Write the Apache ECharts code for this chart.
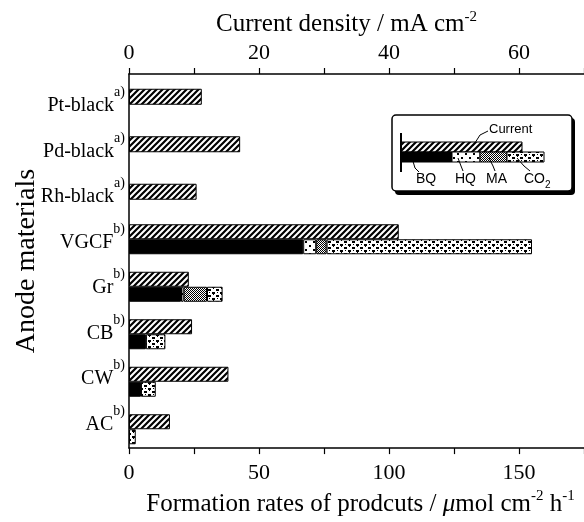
<!DOCTYPE html>
<html><head><meta charset="utf-8">
<script src="https://cdn.jsdelivr.net/npm/echarts@6/dist/echarts.min.js"></script>
<style>html,body{margin:0;padding:0;background:#fff}#c{width:584px;height:522px}</style>
</head><body><div id="c"></div>
<script>
const categories = ['Pt-black','Pd-black','Rh-black','VGCF','Gr','CB','CW','AC'];
const notes = ['a)','a)','a)','b)','b)','b)','b)','b)'];
// current density, mA cm-2 (top axis)
const currentSingle = [11.2, 17.1, 10.4, null, null, null, null, null];
const currentPaired = [null, null, null, 41.5, 9.2, 9.7, 15.3, 6.3];
// formation rates, umol cm-2 h-1 (bottom axis)
const bq  = [null, null, null, 67, 20, 6.5, 4.6, null];
const hq  = [null, null, null, 5, 1, null, null, null];
const ma  = [null, null, null, 4, 9, null, null, null];
const co2 = [null, null, null, 79, 6, 7.5, 5.7, 2.6];
const rateTickLabels = [0, 50, 100, 150];
const currentTickLabels = [0, 20, 40, 60];

function pat(w, h, draw) {
  const c = document.createElement('canvas');
  c.width = w; c.height = h;
  const g = c.getContext('2d');
  g.fillStyle = '#fff'; g.fillRect(0, 0, w, h);
  g.fillStyle = '#000'; g.strokeStyle = '#000';
  draw(g);
  return { image: c, repeat: 'repeat' };
}
const hatch = pat(6, 6, g => {
  g.lineWidth = 2.2;
  g.beginPath();
  g.moveTo(-1, 7); g.lineTo(7, -1);
  g.moveTo(-1, 1); g.lineTo(1, -1);
  g.moveTo(5, 7); g.lineTo(7, 5);
  g.stroke();
});
const hqPat = pat(8, 8, g => { g.fillRect(1, 1, 2, 2); g.fillRect(5, 5, 2, 2); });
const maPat = pat(2, 2, g => { g.fillRect(0, 0, 1, 1); g.fillRect(1, 1, 1, 1); });
const co2Pat = pat(8, 6, g => {
  g.fillRect(0, 1, 3, 2); g.fillRect(4, 4, 3, 2); g.fillRect(5, 0, 1, 1); g.fillRect(1, 4, 1, 1);
});

const serif = '"Liberation Serif", "DejaVu Serif", serif';
const sans = '"Liberation Sans", Arial, sans-serif';
const border = { borderColor: '#000', borderWidth: 1 };

const chart = echarts.init(document.getElementById('c'), null, { renderer: 'canvas' });

function barSeries(name, data, color) {
  return {
    name, type: 'bar', data, barWidth: 15, barGap: '0%',
    xAxisIndex: 2, yAxisIndex: 1, stack: 'f',
    itemStyle: Object.assign({ color }, border)
  };
}

const axisBase = {
  axisLine: { show: true, lineStyle: { color: '#000', width: 1.5 } },
  splitLine: { show: false },
};
const tickStyle = { color: '#000', width: 1.2 };

chart.setOption({
  animation: false,
  backgroundColor: '#fff',
  grid: [
    { left: 129, top: 74, width: 457, height: 386 },   // frame with axes
    { left: 129, top: 73, width: 457, height: 380 },   // bars
    { left: 129, top: 78, width: 457, height: 364 }    // category labels
  ],
  xAxis: [
    Object.assign({
      gridIndex: 0, type: 'value', position: 'bottom', min: 0, max: 175, interval: 50,
      axisTick: { show: true, length: 6, lineStyle: tickStyle },
      minorTick: { show: true, splitNumber: 2, length: 6, lineStyle: tickStyle },
      axisLabel: { showMaxLabel: false, margin: 14, color: '#000', fontSize: 22, fontFamily: serif,
        formatter: v => rateTickLabels.includes(v) ? String(v) : '' },
      name: '{t|Formation rates of prodcuts / }{i|μ}{t|mol cm}{s|-2}{t| h}{s|-1}',
      nameLocation: 'middle', nameGap: 39,
      nameTextStyle: { color: '#000', fontFamily: serif, fontSize: 25, padding: [0, 0, 0, 8],
        rich: { t: { fontSize: 25, fontFamily: serif, color: '#000', verticalAlign: 'bottom', lineHeight: 28 },
                i: { fontSize: 25, fontFamily: serif, fontStyle: 'italic', color: '#000', verticalAlign: 'bottom', lineHeight: 28 },
                s: { fontSize: 15, fontFamily: serif, color: '#000', verticalAlign: 'top', lineHeight: 28 } } }
    }, axisBase),
    Object.assign({
      gridIndex: 0, type: 'value', position: 'top', min: 0, max: 70, interval: 20,
      axisTick: { show: true, length: 6, lineStyle: tickStyle },
      minorTick: { show: true, splitNumber: 2, length: 6, lineStyle: tickStyle },
      axisLabel: { showMaxLabel: false, margin: 10, color: '#000', fontSize: 22, fontFamily: serif,
        formatter: v => currentTickLabels.includes(v) ? String(v) : '' },
      name: '{t|Current density / mA cm}{s|-2}',
      nameLocation: 'middle', nameGap: 36,
      nameTextStyle: { color: '#000', fontFamily: serif, fontSize: 25, padding: [0, 20, 0, 0],
        rich: { t: { fontSize: 25, fontFamily: serif, color: '#000', verticalAlign: 'bottom', lineHeight: 28 },
                s: { fontSize: 15, fontFamily: serif, color: '#000', verticalAlign: 'top', lineHeight: 28 } } }
    }, axisBase),
    { gridIndex: 1, type: 'value', position: 'bottom', min: 0, max: 175, show: false },
    { gridIndex: 1, type: 'value', position: 'top', min: 0, max: 70, show: false },
    { gridIndex: 2, type: 'value', min: 0, max: 175, show: false }
  ],
  yAxis: [
    Object.assign({
      gridIndex: 0, type: 'value', min: 0, max: 1,
      axisTick: { show: false }, axisLabel: { show: false },
      name: 'Anode materials', nameLocation: 'middle', nameGap: 88, nameRotate: 90,
      nameTextStyle: { color: '#000', fontFamily: serif, fontSize: 28 }
    }, axisBase),
    { gridIndex: 1, type: 'category', data: categories, inverse: true, show: false },
    { gridIndex: 1, type: 'category', data: categories, inverse: true, show: false, position: 'right' },
    {
      gridIndex: 2, type: 'category', data: categories, inverse: true,
      axisLine: { show: false }, axisTick: { show: false }, splitLine: { show: false },
      axisLabel: {
        margin: 4, color: '#000',
        formatter: (v, i) => '{n|' + v + '}{s|' + notes[i] + '}',
        rich: {
          n: { fontSize: 20, fontFamily: serif, color: '#000', verticalAlign: 'bottom', lineHeight: 30 },
          s: { fontSize: 14, fontFamily: serif, color: '#000', verticalAlign: 'top', lineHeight: 30 }
        }
      }
    }
  ],
  series: [
    { name: 'CurrentSingle', type: 'bar', data: currentSingle, xAxisIndex: 3, yAxisIndex: 2,
      barWidth: 16, itemStyle: Object.assign({ color: hatch }, border) },
    { name: 'Current', type: 'bar', data: currentPaired, xAxisIndex: 3, yAxisIndex: 1,
      barWidth: 15, barGap: '0%', itemStyle: Object.assign({ color: hatch }, border) },
    barSeries('BQ', bq, '#000'),
    barSeries('HQ', hq, hqPat),
    barSeries('MA', ma, maPat),
    barSeries('CO2', co2, co2Pat)
  ],
  graphic: [
    { type: 'rect', shape: { x: 395, y: 118, width: 180, height: 77, r: 4 }, style: { fill: '#000' } },
    { type: 'rect', shape: { x: 392, y: 115, width: 180, height: 76, r: 4 }, style: { fill: '#fff', stroke: '#000', lineWidth: 1.5 } },
    { type: 'rect', shape: { x: 401, y: 142, width: 121, height: 10 }, style: { fill: hatch, stroke: '#000', lineWidth: 1 } },
    { type: 'rect', shape: { x: 401, y: 152, width: 51, height: 10 }, style: { fill: '#000', stroke: '#000', lineWidth: 1 } },
    { type: 'rect', shape: { x: 452, y: 152, width: 28, height: 10 }, style: { fill: hqPat, stroke: '#000', lineWidth: 1 } },
    { type: 'rect', shape: { x: 480, y: 152, width: 27, height: 10 }, style: { fill: maPat, stroke: '#000', lineWidth: 1 } },
    { type: 'rect', shape: { x: 507, y: 152, width: 37, height: 10 }, style: { fill: co2Pat, stroke: '#000', lineWidth: 1 } },
    { type: 'line', shape: { x1: 401, y1: 133, x2: 401, y2: 172 }, style: { stroke: '#000', lineWidth: 2 } },
    { type: 'polyline', shape: { points: [[473, 146], [480, 135], [488, 131]] }, style: { stroke: '#000', lineWidth: 1, fill: null } },
    { type: 'polyline', shape: { points: [[412, 158], [415, 168], [419, 172]] }, style: { stroke: '#000', lineWidth: 1, fill: null } },
    { type: 'polyline', shape: { points: [[458, 158], [461, 166], [463, 171]] }, style: { stroke: '#000', lineWidth: 1, fill: null } },
    { type: 'polyline', shape: { points: [[489, 158], [493, 166], [495, 171]] }, style: { stroke: '#000', lineWidth: 1, fill: null } },
    { type: 'polyline', shape: { points: [[517, 158], [524, 166], [530, 171]] }, style: { stroke: '#000', lineWidth: 1, fill: null } },
    { type: 'text', x: 489, y: 123, style: { text: 'Current', font: '13px ' + sans, fill: '#000' } },
    { type: 'text', x: 416, y: 172, style: { text: 'BQ', font: '14px ' + sans, fill: '#000' } },
    { type: 'text', x: 455, y: 172, style: { text: 'HQ', font: '14px ' + sans, fill: '#000' } },
    { type: 'text', x: 486, y: 172, style: { text: 'MA', font: '14px ' + sans, fill: '#000' } },
    { type: 'text', x: 524, y: 172, style: { text: '{a|CO}{b|2}', fill: '#000',
        rich: { a: { fontSize: 14, fontFamily: sans, verticalAlign: 'top', lineHeight: 18 },
                b: { fontSize: 10, fontFamily: sans, verticalAlign: 'bottom', lineHeight: 18 } } } }
  ]
});
</script></body></html>
